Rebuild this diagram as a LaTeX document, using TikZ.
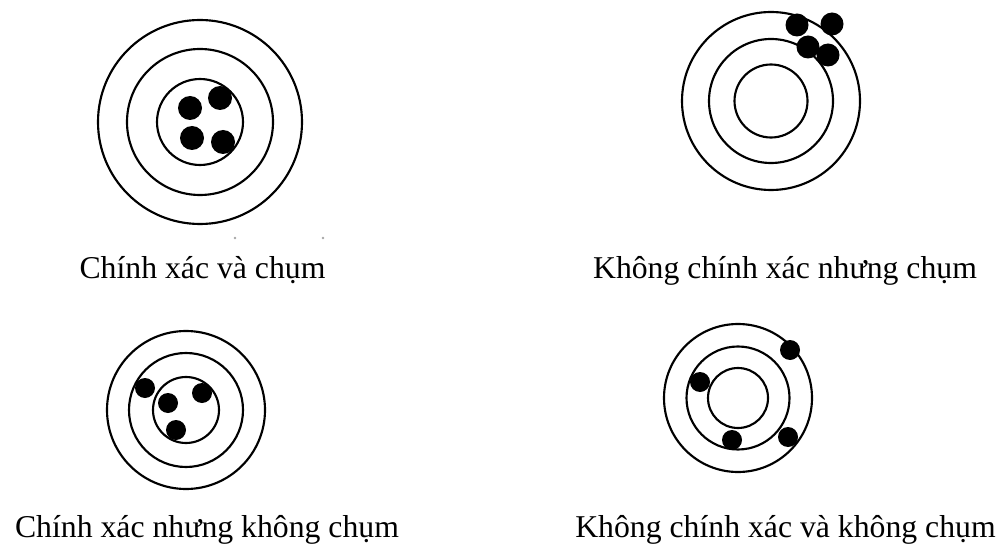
\documentclass[tikz,border=0pt]{standalone}
\usepackage{fontspec}
\setmainfont{Liberation Serif}
\tikzset{
  ring/.style={draw=black,line width=1.6pt},
  hit/.style={fill=black},
  caption/.style={font=\fontsize{23.8}{28}\selectfont,inner sep=0pt,anchor=base}
}
\begin{document}
\begin{tikzpicture}[x=0.75pt,y=-0.75pt]
\useasboundingbox (0,0) rectangle (998,545);
% top left
\coordinate (A) at (200,122);
\draw[ring] (A) circle (102) (A) circle (73) (A) circle (43);
\foreach \p in {(190,108),(220,98),(192,138),(223,142)} {
  \fill[hit] \p circle (12);
}
\fill[gray!70] (235,238) circle (1.3) (323,238) circle (1.3);
% top right
\coordinate (B) at (771,101);
\draw[ring] (B) circle (89) (B) circle (62) (B) circle (36.5);
\foreach \p in {(797,25),(832,24),(808,47),(828,55)} {
  \fill[hit] \p circle (11.5);
}
% bottom left
\coordinate (C) at (186,410);
\draw[ring] (C) circle (79) (C) circle (57) (C) circle (33);
\foreach \p in {(145,388),(168,403),(202,393),(176,430)} {
  \fill[hit] \p circle (10);
}
% bottom right
\coordinate (D) at (738,398);
\draw[ring] (D) circle (74) (D) circle (51.5) (D) circle (30);
\foreach \p in {(790,350),(700,382),(732,440),(788,437)} {
  \fill[hit] \p circle (10);
}
\node[caption] (capA) at (202.5,278) {Chính xác và chụm};
\node[caption] (capB) at (785,278) {Không chính xác nhưng chụm};
\node[caption] (capC) at (207,537) {Chính xác nhưng không chụm};
\node[caption] (capD) at (785.5,537) {Không chính xác và không chụm};
\end{tikzpicture}
\end{document}
